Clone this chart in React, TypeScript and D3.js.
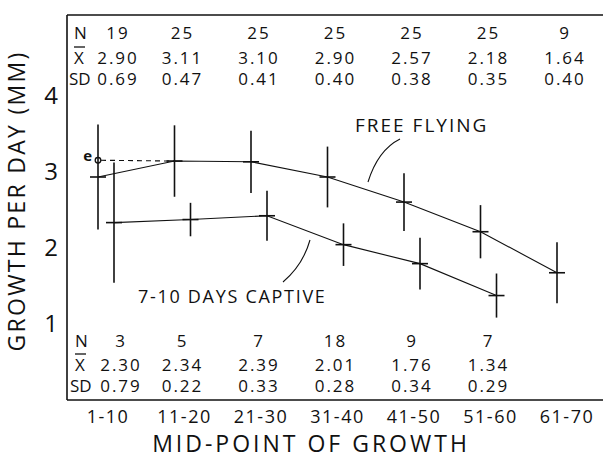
import * as d3 from "d3";

// age classes (mid-point of growth)
const ageClasses = ["1-10", "11-20", "21-30", "31-40", "41-50", "51-60", "61-70"];

// free flying birds
const freeN = [19, 25, 25, 25, 25, 25, 9];
const freeMean = [2.9, 3.11, 3.1, 2.9, 2.57, 2.18, 1.64];
const freeSD = [0.69, 0.47, 0.41, 0.4, 0.38, 0.35, 0.4];

// 7-10 days captive
const captiveN = [3, 5, 7, 18, 9, 7];
const captiveMean = [2.3, 2.34, 2.39, 2.01, 1.76, 1.34];
const captiveSD = [0.79, 0.22, 0.33, 0.28, 0.34, 0.29];

// estimated value for the first class (open circle "e")
const estimatedFirst = 3.12;

const yTicks = [1, 2, 3, 4];

const W = 603;
const H = 459;
const FONT = "'Open Sans', 'DejaVu Sans', sans-serif";

export default function App() {
  const x = d3.scalePoint<string>().domain(ageClasses).range([106, 565]);
  const y = d3.scaleLinear().domain([1, 4]).range([321.4, 93.4]);

  const box = { left: 67, top: 15, bottom: 400, right: W + 5 };
  const freeOff = -8;
  const capOff = 8;
  const cross = 8;

  const freePts = freeMean.map((m, i) => [x(ageClasses[i])! + freeOff, y(m)] as [number, number]);
  const capPts = captiveMean.map((m, i) => [x(ageClasses[i])! + capOff, y(m)] as [number, number]);
  const lineGen = d3.line();

  const eX = x(ageClasses[0])! + freeOff;
  const eY = y(estimatedFirst);

  const colX = (i: number, first: number) => x(ageClasses[i])! + (i === 0 ? first : 0);

  const tableRow = (vals: string[], yy: number, first: number, key: string) =>
    vals.map((v, i) => (
      <text key={key + i} x={colX(i, first)} y={yy} textAnchor="middle" fontSize={17} letterSpacing={2}>
        {v}
      </text>
    ));

  return (
    <svg width={W} height={H} style={{ position: "absolute", left: 0, top: 0, background: "#fff" }} fontFamily={FONT} fill="#111">
      {/* frame */}
      <g stroke="#111" fill="none">
        <line x1={box.left} x2={box.left} y1={box.top} y2={box.bottom} strokeWidth={1.6} />
        <line x1={box.left} x2={box.right} y1={box.top} y2={box.top} strokeWidth={1.4} />
        <line x1={box.left} x2={box.right} y1={box.bottom} y2={box.bottom} strokeWidth={1.6} />
      </g>

      {/* y tick labels */}
      {yTicks.map((t) => (
        <text key={"yt" + t} x={51} y={y(t) + 11} textAnchor="middle" fontSize={24}>
          {t}
        </text>
      ))}

      {/* axis titles */}
      <text transform="translate(25,201) rotate(-90)" textAnchor="middle" fontSize={23} letterSpacing={2.3}>
        GROWTH PER DAY (MM)
      </text>
      <text x={311} y={452} textAnchor="middle" fontSize={23} letterSpacing={3}>
        MID-POINT OF GROWTH
      </text>

      {/* x tick labels */}
      {ageClasses.map((c) => (
        <text key={"xt" + c} x={x(c)! + 2} y={423} textAnchor="middle" fontSize={18} letterSpacing={1.5}>
          {c}
        </text>
      ))}

      {/* top table: free flying */}
      <text x={74} y={39} fontSize={17}>N</text>
      <text x={74} y={64} fontSize={17}>X</text>
      <line x1={74} x2={85} y1={47} y2={47} stroke="#111" strokeWidth={1.3} />
      <text x={69} y={85} fontSize={17}>SD</text>
      {tableRow(freeN.map(String), 39, 12, "fn")}
      {tableRow(freeMean.map((v) => v.toFixed(2)), 64, 12, "fm")}
      {tableRow(freeSD.map((v) => v.toFixed(2)), 85, 12, "fs")}

      {/* bottom table: captive */}
      <text x={75} y={347} fontSize={17}>N</text>
      <text x={75} y={371} fontSize={17}>X</text>
      <line x1={75} x2={86} y1={354} y2={354} stroke="#111" strokeWidth={1.3} />
      <text x={70} y={392} fontSize={17}>SD</text>
      {tableRow(captiveN.map(String), 347, 15, "cn")}
      {tableRow(captiveMean.map((v) => v.toFixed(2)), 371, 15, "cm")}
      {tableRow(captiveSD.map((v) => v.toFixed(2)), 392, 15, "cs")}

      {/* connecting lines */}
      <path d={lineGen(freePts)!} fill="none" stroke="#111" strokeWidth={1.1} />
      <path d={lineGen(capPts)!} fill="none" stroke="#111" strokeWidth={1.1} />

      {/* estimated point */}
      <line x1={eX + 3} x2={freePts[1][0]} y1={eY} y2={freePts[1][1]} stroke="#111" strokeWidth={1.1} strokeDasharray="5 4" />
      <circle cx={eX} cy={eY} r={2.8} fill="#fff" stroke="#111" strokeWidth={1.3} />
      <text x={92} y={161} textAnchor="end" fontSize={15} fontWeight="bold">e</text>

      {/* error bars and mean ticks */}
      <g stroke="#111" strokeWidth={1.6}>
        {freePts.map(([px, py], i) => (
          <g key={"fe" + i}>
            <line x1={px} x2={px} y1={y(freeMean[i] + freeSD[i])} y2={y(freeMean[i] - freeSD[i])} />
            <line x1={px - cross} x2={px + cross} y1={py} y2={py} />
          </g>
        ))}
        {capPts.map(([px, py], i) => (
          <g key={"ce" + i}>
            <line x1={px} x2={px} y1={y(captiveMean[i] + captiveSD[i])} y2={y(captiveMean[i] - captiveSD[i])} />
            <line x1={px - cross} x2={px + cross} y1={py} y2={py} />
          </g>
        ))}
      </g>

      {/* series labels with leaders */}
      <text x={355} y={132} fontSize={19} letterSpacing={2}>FREE FLYING</text>
      <path d="M400,139 Q378,150 368,182" fill="none" stroke="#111" strokeWidth={1.1} />
      <text x={138} y={303} fontSize={18} letterSpacing={1.7}>7-10 DAYS CAPTIVE</text>
      <path d="M310,240 Q303,265 283,282" fill="none" stroke="#111" strokeWidth={1.1} />
    </svg>
  );
}
